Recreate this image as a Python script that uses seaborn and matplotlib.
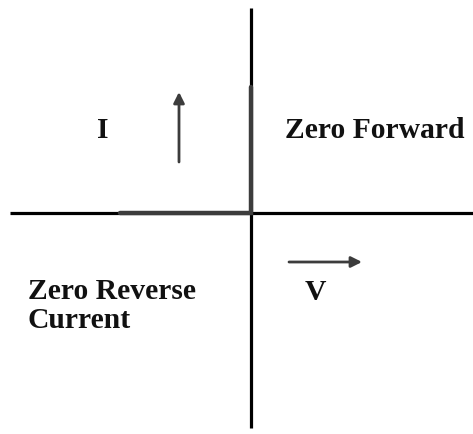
import matplotlib
matplotlib.use("Agg")
import matplotlib.pyplot as plt
import seaborn as sns
import pandas as pd

# Ideal diode I-V characteristic (diagram units, origin at axes crossing)
curve_v = [-131, 0, 0]
curve_i = [0, 0, 126]

# Axis extents
v_axis = [-241, 222]
i_axis = [-215, 205]

labels = ["I", "Zero Forward", "Zero Reverse\nCurrent", "V"]

sns.set_theme(style="white")
plt.rcParams['font.family'] = ['Liberation Serif', 'DejaVu Serif']

fig = plt.figure(figsize=(4.73, 4.34), dpi=100)
ax = fig.add_axes([0, 0, 1, 1])
ax.set_xlim(-251, 222)
ax.set_ylim(-221, 213)
ax.axis("off")

# axes
ax.plot(v_axis, [0, 0], color="black", lw=2.3, solid_capstyle="butt")
ax.plot([0, 0], i_axis, color="black", lw=2.3, solid_capstyle="butt")

# characteristic
df = pd.DataFrame({"V": curve_v, "I": curve_i})
sns.lineplot(data=df, x="V", y="I", sort=False, estimator=None, ax=ax,
             color="#3c3c3c", lw=3.2)
ax.get_lines()[-1].set_solid_joinstyle("miter")

# arrows
ax.annotate("", xy=(-72, 121), xytext=(-72, 51),
            arrowprops=dict(arrowstyle="-|>", color="#3c3c3c", lw=2.0,
                            mutation_scale=16, shrinkA=0, shrinkB=0))
ax.annotate("", xy=(111, -49), xytext=(38, -49),
            arrowprops=dict(arrowstyle="-|>", color="#3c3c3c", lw=2.0,
                            mutation_scale=16, shrinkA=0, shrinkB=0))

kw = dict(fontsize=21.3, fontweight="bold", color="#111111")
ax.text(-154, 83, labels[0], ha="left", va="center", **kw)
ax.text(34, 83, labels[1], ha="left", va="center", **kw)
ax.text(-223, -93, labels[2], ha="left", va="center", linespacing=1.08, **kw)
ax.text(54, -79, labels[3], ha="left", va="center", **kw)

fig.savefig("out.png", dpi=100)
